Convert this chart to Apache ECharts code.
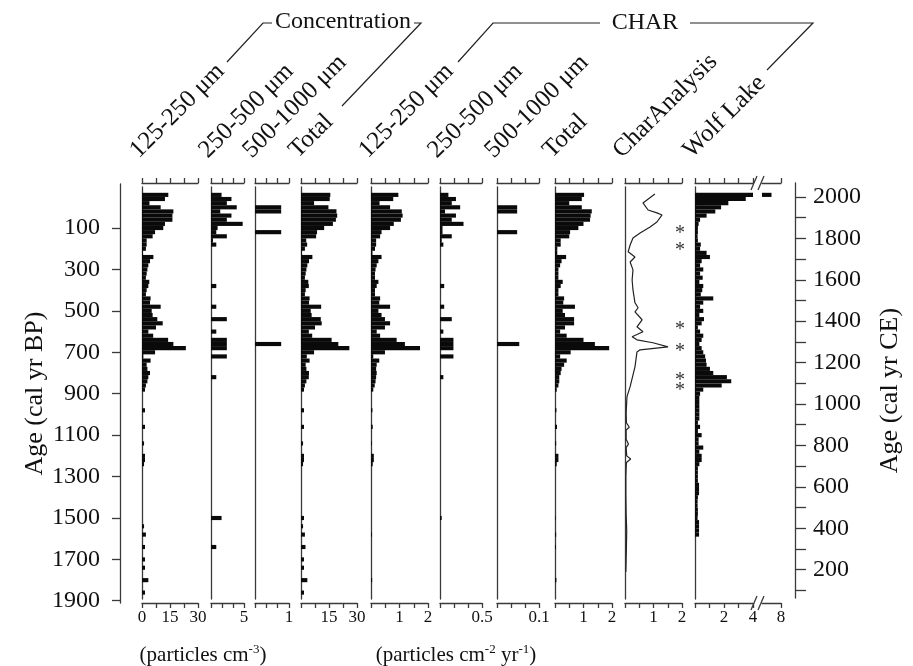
<!DOCTYPE html>
<html>
<head>
<meta charset="UTF-8">
<title>Charcoal record</title>
<script src="https://cdn.jsdelivr.net/npm/echarts@6/dist/echarts.min.js"></script>
<style>html,body{margin:0;background:#fff;}</style>
</head>
<body>
<div id="main" style="width:913px;height:666px;"></div>
<script type="text/javascript">
// sample tops, cal yr BP (each sample spans 20 yr)
var ageTop = [-70,-50,-30,-10,10,30,50,70,90,110,130,150,170,190,210,230,250,270,290,310,
  330,350,370,390,410,430,450,470,490,510,530,550,570,590,610,630,650,670,690,710,
  730,750,770,790,810,830,850,870,890,910,930,950,970,990,1010,1030,1050,1070,1090,1110,
  1130,1150,1170,1190,1210,1230,1250,1270,1290,1310,1330,1350,1370,1390,1410,1430,1450,1470,1490,1510,
  1530,1550,1570,1590,1610,1630,1650,1670,1690,1710,1730,1750,1770,1790,1810,1830,1850,1870];

// concentration, particles cm-3
var conc125 = [14.1,12.3,4.0,10.0,16.8,16.3,16.3,12.3,11.4,7.0, 5.7,2.5,2.5,2.1,0.4,6.1,4.3,3.4,2.9,2.5,
  2.1,3.9,3.4,2.5,2.1,4.6,4.3,10.0,5.2,5.7, 8.2,11.1,7.5,3.4,6.0,14.0,16.8,23.5,7.0,0.7,
  4.6,2.5,2.9,4.3,3.4,2.9,2.1,1.6,0,0, 0,0,1.6,0,0,0,1.6,0,0,0, 1.1,0,0,1.6,1.6,1.1,0,0,0,0,
  0,0,0,0,0,0,0,0,0,0, 1.1,0,2.1,0,0,1.6,0,0,1.6,0, 1.6,0,0,3.4,0,0,1.6,0];
var conc250 = [1.6,3.1,2.4,3.9,1.4,3.1,2.4,4.8,1.0,0.8, 2.4,0.3,0.8,0,0,0,0,0,0,0,
  0,0,0.8,0,0,0,0,0.8,0,0, 2.4,0,0,0.8,0,2.4,2.4,2.4,0,2.4,
  0,0,0,0,0.8,0,0,0,0,0, 0,0,0,0,0,0,0,0,0,0, 0,0,0,0,0,0,0,0,0,0,
  0,0,0,0,0,0,0,0,1.6,0, 0,0,0,0,0,0.8,0,0,0,0, 0,0,0,0,0,0,0,0];
var conc500 = [0,0,0,0.77,0.77,0,0,0,0,0.77, 0,0,0,0,0,0,0,0,0,0,
  0,0,0,0,0,0,0,0,0,0, 0,0,0,0,0,0,0.77,0,0,0,
  0,0,0,0,0,0,0,0,0,0, 0,0,0,0,0,0,0,0,0,0, 0,0,0,0,0,0,0,0,0,0,
  0,0,0,0,0,0,0,0,0,0, 0,0,0,0,0,0,0,0,0,0, 0,0,0,0,0,0,0,0];
var concTotal = [15.7,15.4,7.0,14.7,19.0,19.4,18.7,17.1,12.4,8.6, 8.1,2.8,3.3,2.1,0.4,6.1,4.3,3.4,2.9,2.5,
  2.1,3.9,4.2,2.5,2.1,4.6,4.3,10.8,5.2,5.7, 10.6,11.1,7.5,4.2,6.0,16.4,20.0,25.9,7.0,3.1,
  4.6,2.5,2.9,4.3,4.2,2.9,2.1,1.6,0,0, 0,0,1.6,0,0,0,1.6,0,0,0, 1.1,0,0,1.6,1.6,1.1,0,0,0,0,
  0,0,0,0,0,0,0,0,1.6,0, 1.1,0,2.1,0,0,2.4,0,0,1.6,0, 1.6,0,0,3.4,0,0,1.6,0];

// CHAR, particles cm-2 yr-1
var char125 = [0.96,0.78,0.3,0.67,1.08,1.11,1.05,0.8,0.67,0.37, 0.32,0.18,0.18,0.14,0.05,0.37,0.26,0.2,0.16,0.14,
  0.14,0.26,0.2,0.14,0.14,0.32,0.29,0.67,0.26,0.37, 0.49,0.67,0.49,0.2,0.32,0.9,1.19,1.72,0.49,0.08,
  0.29,0.2,0.18,0.2,0.18,0.16,0.13,0.08,0,0, 0,0,0.05,0,0,0,0.06,0,0,0, 0.03,0,0,0.1,0.1,0.06,0,0,0,0,
  0,0,0,0,0,0,0,0,0,0, 0,0,0.03,0,0,0,0,0,0,0, 0,0,0,0.04,0,0,0,0];
var char250 = [0.1,0.19,0.14,0.24,0.06,0.19,0.14,0.28,0.03,0.03, 0.14,0.02,0.04,0,0,0,0,0,0,0,
  0,0,0.05,0,0,0,0,0.05,0,0, 0.14,0,0,0.04,0,0.16,0.16,0.16,0,0.16,
  0,0,0,0,0.04,0,0,0,0,0, 0,0,0,0,0,0,0,0,0,0, 0,0,0,0,0,0,0,0,0,0,
  0,0,0,0,0,0,0,0,0.02,0, 0,0,0,0,0,0,0,0,0,0, 0,0,0,0,0,0,0,0];
var char500 = [0,0,0,0.048,0.048,0,0,0,0,0.048, 0,0,0,0,0,0,0,0,0,0,
  0,0,0,0,0,0,0,0,0,0, 0,0,0,0,0,0,0.053,0,0,0,
  0,0,0,0,0,0,0,0,0,0, 0,0,0,0,0,0,0,0,0,0, 0,0,0,0,0,0,0,0,0,0,
  0,0,0,0,0,0,0,0,0,0, 0,0,0,0,0,0,0,0,0,0, 0,0,0,0,0,0,0,0];
var charTotal = [1.02,0.94,0.5,0.94,1.29,1.25,1.23,1.0,0.82,0.53, 0.5,0.2,0.2,0.08,0.08,0.39,0.23,0.18,0.12,0.12,
  0.12,0.27,0.2,0.12,0.12,0.32,0.29,0.7,0.27,0.35, 0.67,0.67,0.35,0.18,0.41,1.0,1.4,1.9,0.55,0.18,
  0.41,0.32,0.23,0.2,0.15,0.15,0.12,0.06,0,0, 0,0,0.05,0,0,0,0.07,0,0,0, 0.04,0,0,0.12,0.12,0.06,0,0,0,0,
  0,0,0,0,0,0,0,0,0.02,0, 0,0,0.04,0,0,0.03,0,0,0,0, 0,0,0,0.05,0,0,0,0];

// Wolf Lake CHAR, same 20-yr bins
var wolfLake = [6.0,3.5,2.3,1.8,1.4,0.8,0.35,0.25,0.2,0.2, 0.18,0.2,0.4,0.35,0.8,1.03,0.46,0.35,0.57,0.35,
  0.53,0.3,0.57,0.5,0.4,1.26,0.57,0.35,0.57,0.3, 0.62,0.46,0.2,0.35,0.57,0.46,0.3,0.46,0.57,0.7,
  0.76,0.8,1.03,1.26,2.2,2.5,1.84,0.57,0.35,0.3, 0.3,0.3,0.3,0.3,0.3,0.2,0.35,0.2,0.46,0.25,
  0.25,0.57,0.3,0.46,0.46,0.3,0.2,0.2,0.2,0.2, 0.28,0.28,0.28,0.2,0.18,0.18,0.2,0.2,0.18,0.28,
  0.28,0.28,0.28];

// CharAnalysis curve and detected peaks
var charLineAge = [-64,-21,13,27,37,71,95,124,148,182, 215,240,264,302,351,399,461,485,505,543,
  577,601,625,640,654,674,688,698,770,866, 914,992,1040,1062,1075,1120,1143,1160,1200,1215,
  1232,1260,1300,1380,1480,1560,1640,1700,1760];
var charLineVal = [1.05,0.63,0.81,1.12,1.30,1.12,0.88,0.53,0.28,0.18, 0.11,0.35,0.18,0.28,0.25,0.28,0.35,0.46,0.35,0.60,
  0.42,0.63,0.25,0.42,0.98,1.51,0.53,0.42,0.35,0.18, 0.07,0.04,0.05,0.15,0.04,0.04,0.12,0.04,0.06,0.2,
  0.05,0.04,0.03,0.03,0.04,0.06,0.05,0.04,0.03];
var peakAge = [105,187,568,674,815,863];

// axis ticks
var bpTicks = [100,300,500,700,900,1100,1300,1500,1700,1900];
var ceTicks = [100,200,300,400,500,600,700,800,900,1000,1100,1200,1300,1400,1500,1600,1700,1800,1900,2000];
var ceLabels = [200,400,600,800,1000,1200,1400,1600,1800,2000];

var FONT = '"Liberation Serif", "Times New Roman", serif';
var LINE = '#3a3a3a';
var STEP = 20;
var Y_MIN = -98, Y_MAX = 1891;
var GRID_TOP = 187, GRID_H = 412;

var panels = [
  {title:'125-250 μm', left:142, width:56, min:0, max:30, ticks:[0,7.5,15,22.5,30], labels:[0,15,30], values:conc125},
  {title:'250-500 μm', left:211, width:33, min:0, max:5, ticks:[0,5/3,10/3,5], labels:[5], values:conc250},
  {title:'500-1000 μm', left:255, width:34, min:0, max:1, ticks:[0,1/3,2/3,1], labels:[1], values:conc500},
  {title:'Total', left:301, width:56, min:0, max:30, ticks:[0,7.5,15,22.5,30], labels:[15,30], values:concTotal},
  {title:'125-250 μm', left:371, width:57, min:0, max:2, ticks:[0,0.5,1,1.5,2], labels:[1,2], values:char125},
  {title:'250-500 μm', left:440, width:42, min:0, max:0.5, ticks:[0,1/6,1/3,0.5], labels:[0.5], values:char250},
  {title:'500-1000 μm', left:497, width:42, min:0, max:0.1, ticks:[0,0.1/3,0.2/3,0.1], labels:[0.1], values:char500},
  {title:'Total', left:555, width:57, min:0, max:2, ticks:[0,0.5,1,1.5,2], labels:[1,2], values:charTotal},
  {title:'CharAnalysis', left:625, width:57, min:0, max:2, ticks:[0,0.5,1,1.5,2], labels:[1,2], values:null},
  {title:'Wolf Lake', left:695, width:58, min:0, max:4, ticks:[0,1,2,3,4], labels:[2,4], values:wolfLake},
  {title:null, left:762, width:19, min:4, max:8, ticks:[8], labels:[8], values:wolfLake, noLine:true}
];

function plain(v) { return String(v); }

function barRenderer(base) {
  return function (params, api) {
    var v = api.value(0), a = api.value(1);
    if (!(v > base)) return null;
    var p0 = api.coord([base, a]);
    var p1 = api.coord([v, a + STEP]);
    var cs = params.coordSys;
    var x1 = Math.min(p1[0], cs.x + cs.width);
    return {type:'rect', shape:{x:p0[0], y:p0[1], width:x1 - p0[0], height:p1[1] - p0[1]},
      style:{fill:'#0a0a0a'}};
  };
}

var grids = [], xAxes = [], yAxes = [], series = [], graphics = [];

function xAxisDef(gi, p, pos) {
  return {
    gridIndex: gi, type:'value', min:p.min, max:p.max, position:pos, offset:4,
    axisLine:{show:true, onZero:false, lineStyle:{color:LINE, width:1.3}},
    axisTick:{show:true, length:5, customValues:p.ticks, lineStyle:{color:LINE, width:1.3}},
    axisLabel:{show: pos === 'bottom', customValues:p.labels, formatter:plain, margin:6, color:'#111',
      fontSize:17, fontFamily:FONT},
    splitLine:{show:false}
  };
}

panels.forEach(function (p, i) {
  grids.push({left:p.left, top:GRID_TOP, width:p.width, height:GRID_H, containLabel:false, outerBoundsMode:'none'});
  xAxes.push(xAxisDef(i, p, 'bottom'));
  xAxes.push(xAxisDef(i, p, 'top'));
  yAxes.push({
    gridIndex:i, type:'value', inverse:true, min:Y_MIN, max:Y_MAX,
    axisLine:{show:!p.noLine, onZero:false, lineStyle:{color:LINE, width:1.3}},
    axisTick:{show:false}, axisLabel:{show:false}, splitLine:{show:false}
  });
  if (p.values) {
    series.push({
      type:'custom', xAxisIndex:2 * i, yAxisIndex:i, clip:true, silent:true,
      renderItem: barRenderer(p.min),
      encode:{x:0, y:1},
      data: p.values.map(function (v, k) { return [v, ageTop[k]]; })
    });
  }
  if (p.title) {
    graphics.push({type:'text', x:p.left + 1, y:163, rotation:Math.PI / 4,
      style:{text:p.title, font:'25px ' + FONT, fill:'#111', align:'left', verticalAlign:'bottom'}});
  }
});

// CharAnalysis curve + peaks (panel 8)
series.push({
  type:'line', xAxisIndex:16, yAxisIndex:8, symbol:'none', silent:true,
  lineStyle:{color:'#222', width:1.2},
  data: charLineAge.map(function (a, k) { return [charLineVal[k], a]; })
});
series.push({
  type:'custom', xAxisIndex:16, yAxisIndex:8, silent:true,
  renderItem: function (params, api) {
    var p = api.coord([api.value(0), api.value(1)]);
    return {type:'text', x:p[0], y:p[1] + 5,
      style:{text:'*', font:'20px ' + FONT, fill:'#333', align:'center', verticalAlign:'middle'}};
  },
  data: peakAge.map(function (a) { return [1.93, a]; })
});

// left age axis (cal yr BP)
var gi = grids.length;
grids.push({left:120, top:184, width:10, height:419, containLabel:false, outerBoundsMode:'none'});
xAxes.push({gridIndex:gi, type:'value', show:false, min:0, max:1});
yAxes.push({
  gridIndex:gi, type:'value', inverse:true, min:-112.5, max:1911, position:'left',
  name:'Age (cal yr BP)', nameLocation:'middle', nameGap:72, nameRotate:90,
  nameTextStyle:{fontSize:26, fontFamily:FONT, color:'#111'},
  axisLine:{show:true, onZero:false, lineStyle:{color:LINE, width:1.3}},
  axisTick:{show:true, length:8, customValues:bpTicks, lineStyle:{color:LINE, width:1.3}},
  axisLabel:{customValues:bpTicks, formatter:plain, margin:20, fontSize:24, fontFamily:FONT, color:'#111'},
  splitLine:{show:false}
});

// right age axis (cal yr CE)
gi = grids.length;
grids.push({left:785, top:183, width:10, height:415, containLabel:false, outerBoundsMode:'none'});
xAxes.push({gridIndex:gi, type:'value', show:false, min:0, max:1});
yAxes.push({
  gridIndex:gi, type:'value', min:63.3, max:2067.3, position:'right',
  name:'Age (cal yr CE)', nameLocation:'middle', nameGap:82, nameRotate:90,
  nameTextStyle:{fontSize:26, fontFamily:FONT, color:'#111'},
  axisLine:{show:true, onZero:false, lineStyle:{color:LINE, width:1.3}},
  axisTick:{show:true, length:11, customValues:ceTicks, lineStyle:{color:LINE, width:1.3}},
  axisLabel:{customValues:ceLabels, formatter:plain, margin:18, fontSize:24, fontFamily:FONT, color:'#111'},
  splitLine:{show:false}
});

// group headings and brackets
var bracket = {stroke:'#222', lineWidth:1.2, fill:null};
graphics.push(
  {type:'text', x:343, y:22, style:{text:'Concentration', font:'24px ' + FONT, fill:'#111', align:'center', verticalAlign:'middle'}},
  {type:'polyline', shape:{points:[[227,62],[263,23],[272,23]]}, style:bracket},
  {type:'polyline', shape:{points:[[414,23],[421,23],[342,106]]}, style:bracket},
  {type:'text', x:645, y:23, style:{text:'CHAR', font:'24px ' + FONT, fill:'#111', align:'center', verticalAlign:'middle'}},
  {type:'polyline', shape:{points:[[458,62],[493,23],[600,23]]}, style:bracket},
  {type:'polyline', shape:{points:[[690,23],[813,23],[767,70]]}, style:bracket},
  {type:'text', x:203, y:655, style:{text:'{a|(particles cm}{s|-3}{a|)}', align:'center', verticalAlign:'middle',
    rich:{a:{fontSize:21, fontFamily:FONT, fill:'#111', lineHeight:24}, s:{fontSize:13, fontFamily:FONT, fill:'#111', lineHeight:14, verticalAlign:'top'}}}},
  {type:'text', x:456, y:655, style:{text:'{a|(particles cm}{s|-2}{a| yr}{s|-1}{a|)}', align:'center', verticalAlign:'middle',
    rich:{a:{fontSize:21, fontFamily:FONT, fill:'#111', lineHeight:24}, s:{fontSize:13, fontFamily:FONT, fill:'#111', lineHeight:14, verticalAlign:'top'}}}}
);
// axis break marks on Wolf Lake scale
[[603],[183]].forEach(function (r) {
  var y = r[0];
  graphics.push(
    {type:'line', shape:{x1:751, y1:y + 7, x2:757, y2:y - 7}, style:{stroke:LINE, lineWidth:1.3}},
    {type:'line', shape:{x1:758, y1:y + 7, x2:764, y2:y - 7}, style:{stroke:LINE, lineWidth:1.3}}
  );
});

var myChart = echarts.init(document.getElementById('main'));
myChart.setOption({
  animation:false,
  backgroundColor:'#fff',
  textStyle:{fontFamily:FONT},
  grid:grids, xAxis:xAxes, yAxis:yAxes, series:series, graphic:graphics
});
</script>
</body>
</html>
